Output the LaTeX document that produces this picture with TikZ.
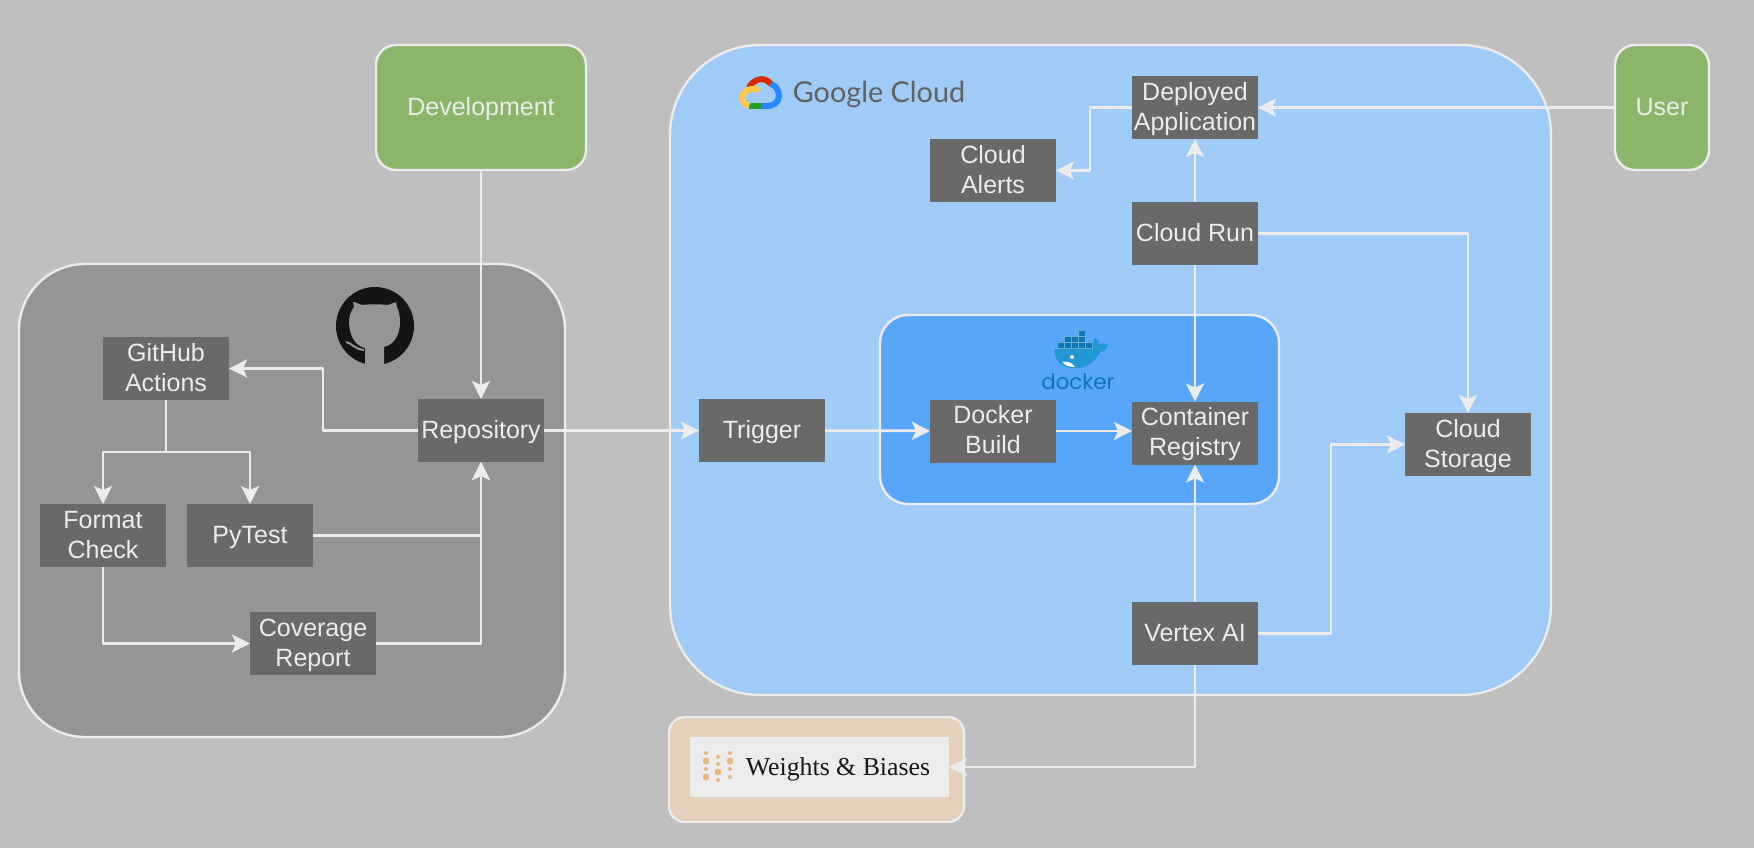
\documentclass[tikz,border=0pt]{standalone}
\usepackage{fontspec}
\setmainfont{Liberation Sans}
\newfontfamily\gcfont{Lato}
\newfontfamily\dkfont{Poppins}
\newfontfamily\wbfont{Liberation Serif}
\usetikzlibrary{arrows.meta}
\definecolor{bgray}{HTML}{BFBFBF}
\definecolor{hubgray}{HTML}{959595}
\definecolor{boxgray}{HTML}{696969}
\definecolor{edge}{HTML}{ECECEC}
\definecolor{leaf}{HTML}{8BB56B}
\definecolor{gcblue}{HTML}{A1CBF7}
\definecolor{dkblue}{HTML}{57A6FA}
\definecolor{sand}{HTML}{E5D1BB}
\definecolor{wbdot}{HTML}{E5B97F}
\definecolor{whale}{HTML}{2396D6}
\definecolor{crate}{HTML}{0E76B4}
\begin{document}
\begin{tikzpicture}[x=0.5pt, y=-0.5pt, line join=round, >={Stealth[length=9pt,width=9pt,inset=2pt]},
    panel/.style={draw=edge, line width=1.2pt, outer sep=0pt, inner sep=0pt},
    labeltext/.style={text=edge, text height=10pt, text depth=2.2pt, font=\fontsize{12.5}{15}\selectfont},
    stepbox/.style={labeltext, fill=boxgray, minimum width=63pt, minimum height=31.5pt, inner sep=0pt, outer sep=0pt, align=center},
    twoline/.style={stepbox, text height=25pt},
    link/.style={draw=edge, line width=1.4pt, ->}]
    \useasboundingbox (0,0) rectangle (1754,848);
    \fill[bgray] (0,0) rectangle (1754,848);
    % panels
    \node[panel, fill=gcblue, rounded corners=45pt, minimum width=440.5pt, minimum height=325pt] (gcloud) at (1110.5,370) {};
    \node[panel, fill=hubgray, rounded corners=33pt, minimum width=273pt, minimum height=236.5pt] (hub) at (292,500.5) {};
    \node[panel, fill=dkblue, rounded corners=14pt, minimum width=199.5pt, minimum height=94.5pt] (dock) at (1079.5,409.5) {};
    \node[panel, fill=sand, rounded corners=8pt, minimum width=147.5pt, minimum height=52.5pt] (wbpanel) at (816.5,769.5) {};
    \foreach \n/\x/\w/\t in {dev/481/105/Development, user/1662/47/User}
    \node[panel, labeltext, fill=leaf, rounded corners=10pt, minimum width=\w pt, minimum height=62.5pt] (\n) at (\x,107.5) {\t};
    \node[fill=edge, minimum width=129.5pt, minimum height=30pt, inner sep=0pt, outer sep=0pt] (wandb) at (819.5,767) {};
    % boxes
    \foreach \n/\x/\y/\t in {run/1195/233.5/{Cloud Run}, trigger/762/430.5/Trigger, vertex/1195/633.5/{Vertex AI},
        repo/481/430.5/Repository, pytest/250/535.5/PyTest}
    \node[stepbox] (\n) at (\x,\y) {\t};
    \foreach \n/\x/\y/\t in {deployed/1195/107.5/{Deployed\\Application}, alerts/993/170.5/{Cloud\\Alerts},
        build/993/431/{Docker\\Build}, registry/1195/433/{Container\\Registry}, storage/1468/444.5/{Cloud\\Storage},
        actions/166/368.5/{GitHub\\Actions}, format/103/535.5/{Format\\Check}, coverage/313/643.5/{Coverage\\Report}}
    \node[twoline] (\n) at (\x,\y) {\t};
    % connectors
    \draw[link] (dev) -- (repo);
    \draw[link] (repo.west) -- ++(-95,0) |- (actions.east);
    \draw[link] (actions.south) -- ++(0,52) -| (format.north);
    \draw[link] (actions.south) -- ++(0,52) -| (pytest.north);
    \draw[link] (format.south) |- (coverage.west);
    \draw[link] (pytest.east) -| (repo.south);
    \draw[link] (coverage.east) -| (repo.south);
    \draw[link] (repo) -- (trigger);
    \draw[link] (trigger) -- (build);
    \draw[link] (build.east) -- (build.east -| registry.west);
    \draw[link] (run) -- (deployed);
    \draw[link] (run) -- (registry);
    \draw[link] (user) -- (deployed);
    \draw[link] (deployed.west) -- ++(-42,0) |- (alerts.east);
    \draw[link] (run.east) -| (storage.north);
    \draw[link] (vertex) -- (registry);
    \draw[link] (vertex.east) -- ++(73,0) |- (storage.west);
    \draw[link] (vertex.south) |- (wandb.east);
    % github mark
    \fill[black!92] (375,326) circle (19.5pt);
    \fill[hubgray] (365,365) -- (365,348) .. controls (352,345) and (349,330) .. (349,322)
        .. controls (349,316) and (351,311) .. (354,307) -- (353,302) -- (354,302) -- (362,305)
        .. controls (370,304) and (380,304) .. (388,305) -- (396,302) -- (397,307)
        .. controls (399,311) and (400,316) .. (400,322) .. controls (400,332) and (396,344) .. (384,347)
        -- (384,365) -- cycle;
    \draw[hubgray, line width=1pt] (346,342) .. controls (352,343) and (354,349) .. (364,350);
    % google cloud mark
    \draw[line width=3pt, color=red!60!orange!85!black] (749,88) .. controls (752,80) and (764,75) .. (771,84);
    \draw[line width=3pt, color=blue!55!cyan!85!white] (771,84) .. controls (781,87) and (783,105) .. (768,106) -- (762,106);
    \draw[line width=3pt, color=green!55!black!85!white] (762,106) -- (749,106);
    \draw[line width=3pt, color=orange!60!yellow!70!white] (749,106) .. controls (739,104) and (741,90) .. (751,89) .. controls (754,88) and (757,89) .. (759,91);
    \node[text=black!62, font=\fontsize{14.4}{17}\gcfont] (gctext) at (879,95) {Google Cloud};
    % docker mark
    \fill[whale] (1054,349) -- (1092,349) .. controls (1092,345) and (1094,340) .. (1095,338) .. controls (1098,340) and (1099,342) .. (1099,344)
        .. controls (1102,343) and (1106,344) .. (1108,345) .. controls (1106,350) and (1103,352) .. (1100,352)
        .. controls (1095,362) and (1086,368) .. (1077,368) .. controls (1064,369) and (1054,362) .. (1054,349) -- cycle;
    \foreach \x/\y in {1057/342,1064/342,1071/342,1078/342,1085/342,1064/336,1071/336,1078/336,1078/330}
    \filldraw[fill=crate, draw=crate!60!white, line width=0.2pt] (\x,\y) rectangle ++(7,6);
    \fill[white] (1072,357) circle (1pt);
    \fill[white] (1062,362) .. controls (1067,361) and (1072,362) .. (1075,367) .. controls (1070,367) and (1065,366) .. (1062,362) -- cycle;
    \node[text=crate, font=\fontsize{10.7}{12}\dkfont] (dktext) at (1078,382) {docker};
    % wandb mark
    \foreach \x/\y/\r in {706/753/1,706/761/1.7,706/769/1,706/777/1.7,718/757/1,718/764/1,718/772/1.7,718/780/1,730/753/1,730/761/1.7,730/769/1,730/777/1}
    \fill[wbdot] (\x,\y) circle (\r pt);
    \node[text=black!90, font=\fontsize{12.9}{15}\wbfont] (wbtext) at (838,769) {Weights \& Biases};
\end{tikzpicture}
\end{document}
